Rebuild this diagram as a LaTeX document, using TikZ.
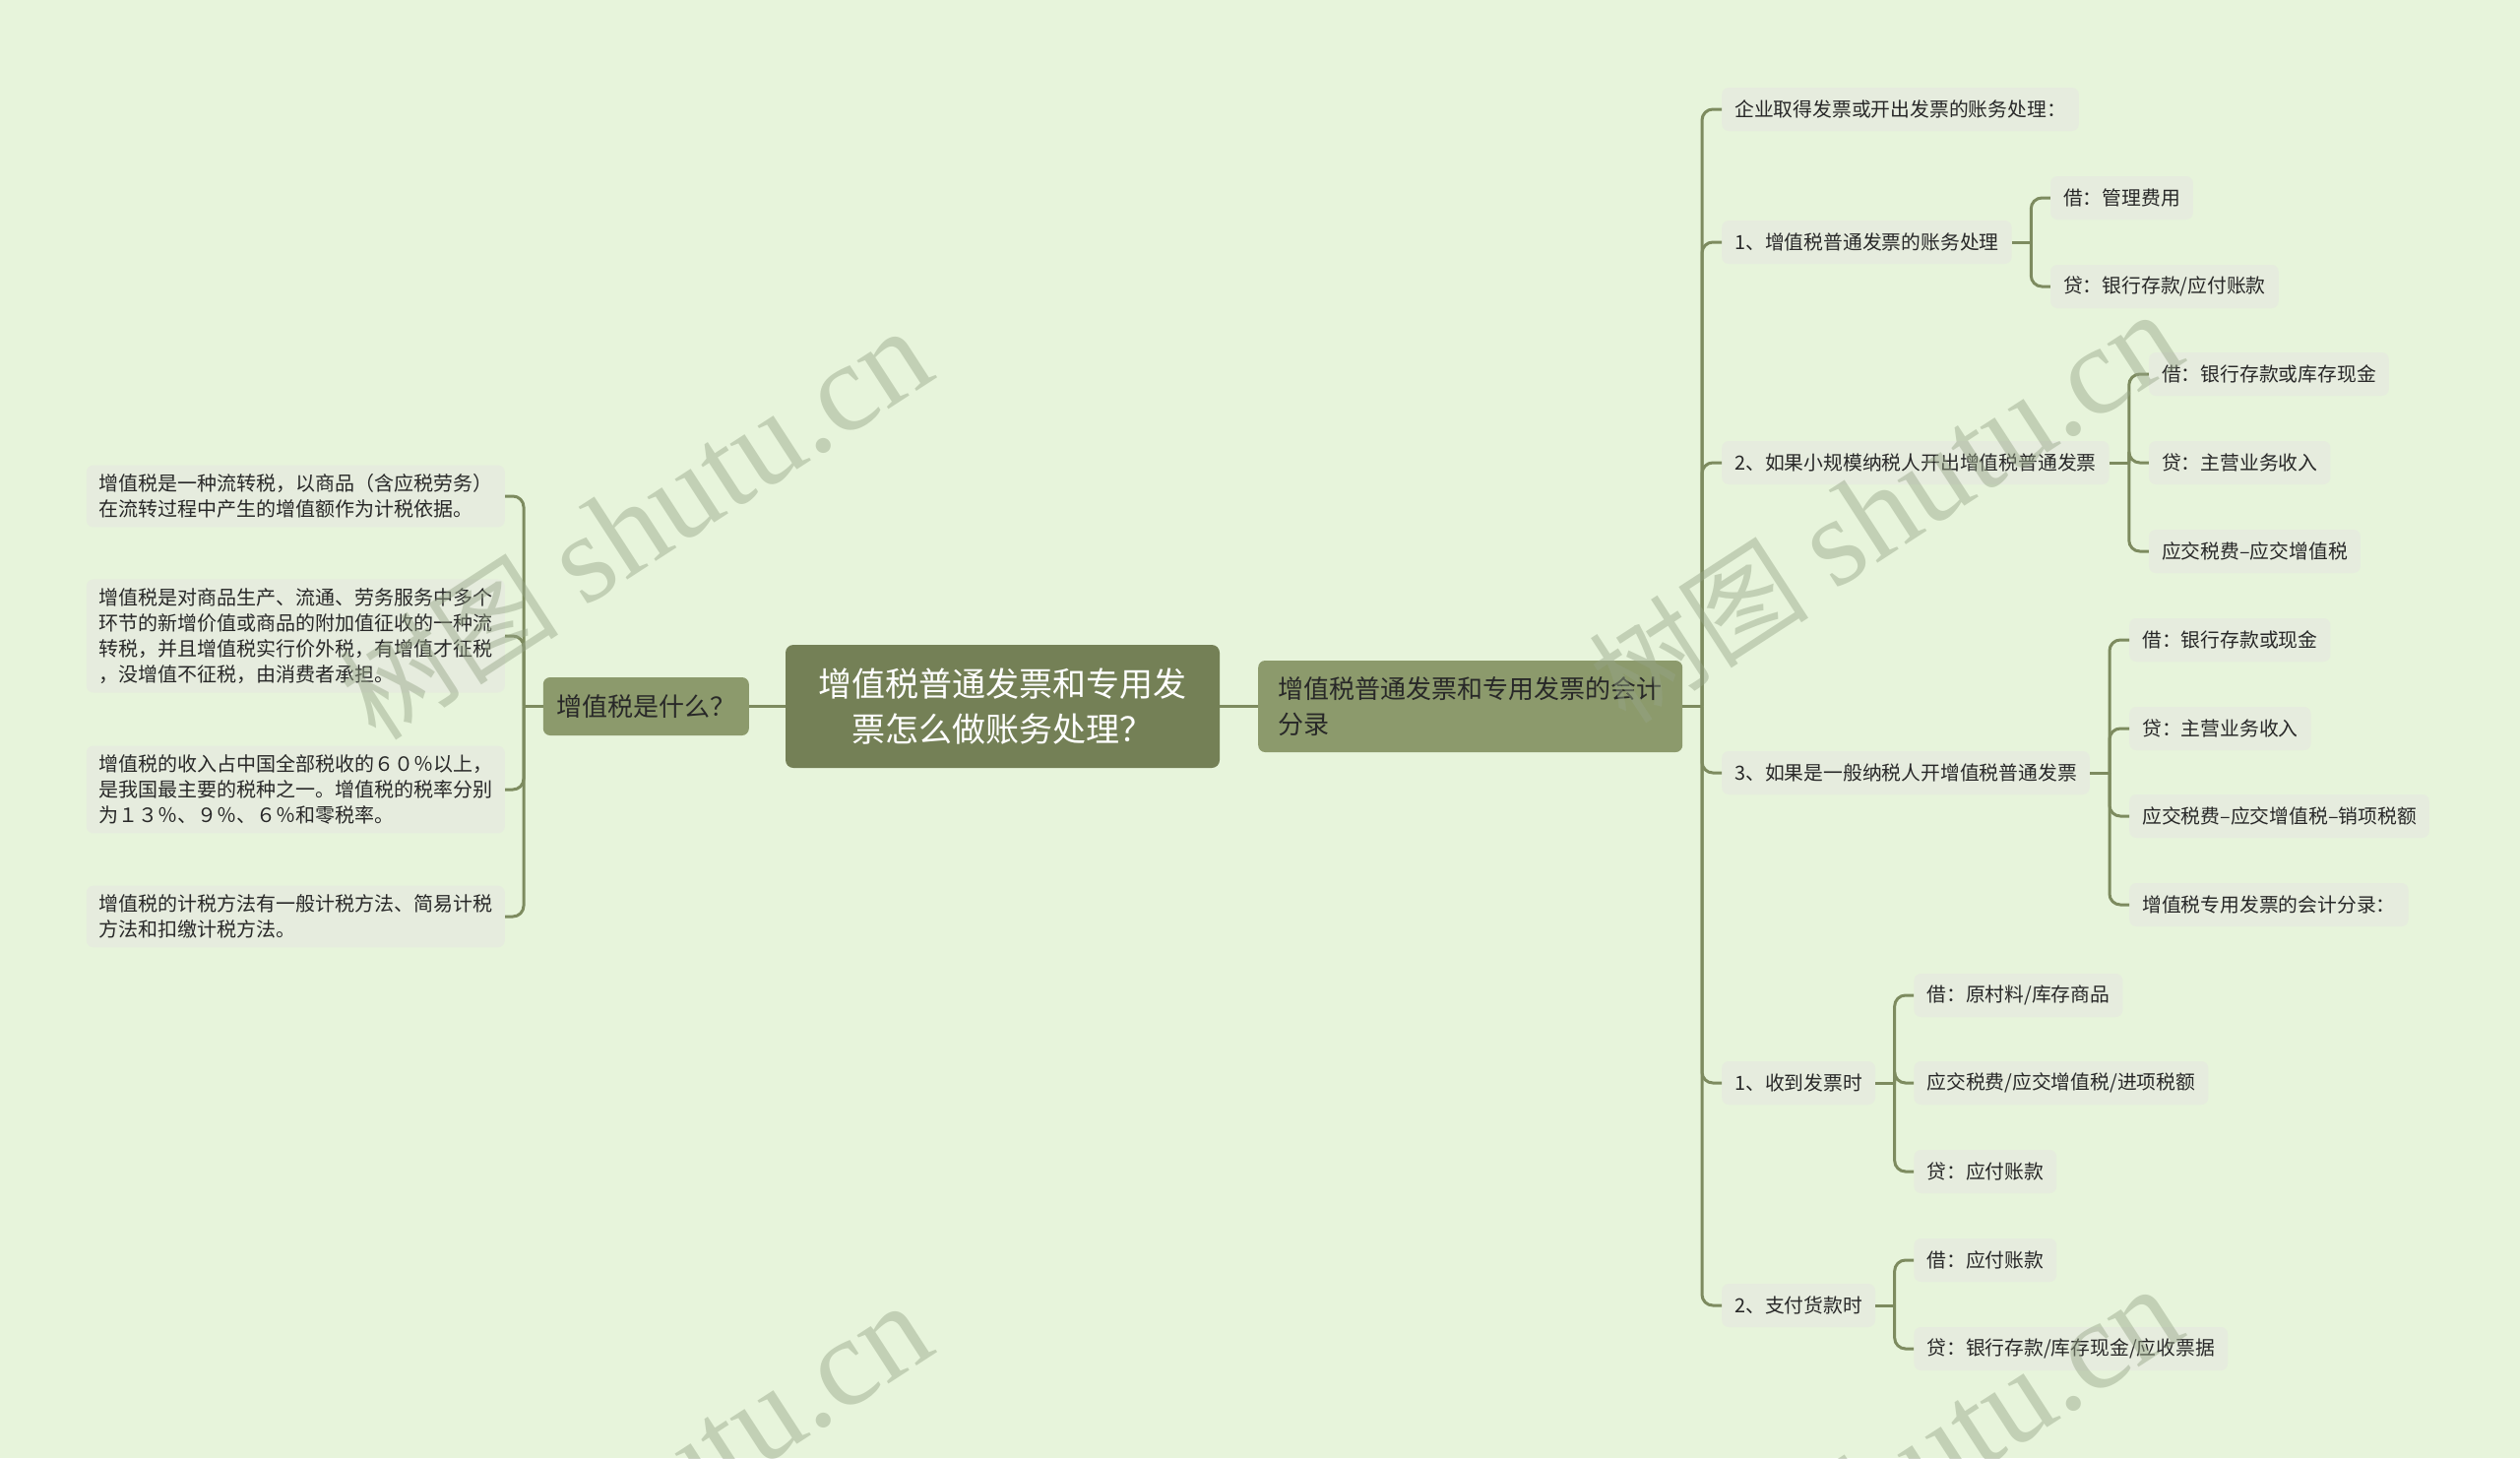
\documentclass[tikz,border=0pt]{standalone}
\usepackage{fontspec}
\setmainfont{Noto Sans CJK SC}
\newfontfamily\wmserif{Liberation Serif}
\usetikzlibrary{calc}
\definecolor{bgc}{RGB}{231,244,219}
\definecolor{rootc}{RGB}{116,128,86}
\definecolor{mainc}{RGB}{140,154,108}
\definecolor{leafc}{RGB}{230,236,222}
\definecolor{linec}{RGB}{125,139,95}
\definecolor{txtc}{RGB}{40,40,40}
\definecolor{wmc}{RGB}{150,165,135}
\tikzset{
  rootbox/.style={fill=rootc, text=white, rounded corners=8pt, minimum width=441pt, minimum height=125pt, align=center, inner sep=0pt, font=\fontsize{34}{46}\selectfont},
  mainbox/.style={fill=mainc, text=txtc, rounded corners=7pt, align=left, inner xsep=20pt, inner ysep=0pt, font=\fontsize{26}{36}\selectfont},
  leafbox/.style={fill=leafc, text=txtc, rounded corners=7pt, align=left, inner xsep=12pt, inner ysep=9pt, minimum width=425pt, font=\fontsize{20}{26}\selectfont},
  rnode/.style={fill=leafc, text=txtc, rounded corners=7pt, anchor=west, inner xsep=13pt, inner ysep=0pt, minimum height=44pt, font=\fontsize{19.8}{24}\selectfont},
  conn/.style={draw=linec, line width=3pt},
  bconn/.style={draw=linec, line width=3pt, rounded corners=11pt},
  wm/.style={text=wmc, text opacity=0.45, rotate=33, inner sep=0pt}
}
\begin{document}
\begin{tikzpicture}[x=1pt,y=-1pt]
\fill[bgc] (0,0) rectangle (2560,1481);
\useasboundingbox (0,0) rectangle (2560,1481);

% root and main nodes
\node[rootbox] (root) at (1018.5,717.5) {增值税普通发票和专用发\\票怎么做账务处理？};
\node[mainbox, anchor=west, minimum width=431pt, minimum height=93pt] (rm) at (1278,717.5) {增值税普通发票和专用发票的会计\\分录};
\node[mainbox, anchor=east, inner xsep=13pt, minimum width=209pt, minimum height=59pt] (lm) at (761,717.5) {增值税是什么？};

% left leaves
\node[leafbox, anchor=east] (l1) at (513,504) {增值税是一种流转税，以商品（含应税劳务）\\在流转过程中产生的增值额作为计税依据。};
\node[leafbox, anchor=east] (l2) at (513,646) {增值税是对商品生产、流通、劳务服务中多个\\环节的新增价值或商品的附加值征收的一种流\\转税，并且增值税实行价外税，有增值才征税\\，没增值不征税，由消费者承担。};
\node[leafbox, anchor=east] (l3) at (513,802) {增值税的收入占中国全部税收的６０％以上，\\是我国最主要的税种之一。增值税的税率分别\\为１３％、９％、６％和零税率。};
\node[leafbox, anchor=east] (l4) at (513,931) {增值税的计税方法有一般计税方法、简易计税\\方法和扣缴计税方法。};

% right level 1
\node[rnode] (a) at (1749,111) {企业取得发票或开出发票的账务处理：};
\node[rnode] (b) at (1749,246) {1、增值税普通发票的账务处理};
\node[rnode] (c) at (1749,470) {2、如果小规模纳税人开出增值税普通发票};
\node[rnode] (d) at (1749,785) {3、如果是一般纳税人开增值税普通发票};
\node[rnode] (e) at (1749,1100) {1、收到发票时};
\node[rnode] (f) at (1749,1326) {2、支付货款时};

% bracket coordinates
\coordinate (bj) at ($(b.east)+(19.5,0)$);
\coordinate (bx) at ($(b.east)+(39,0)$);
\coordinate (cj) at ($(c.east)+(20,0)$);
\coordinate (cx) at ($(c.east)+(40,0)$);
\coordinate (dj) at ($(d.east)+(20,0)$);
\coordinate (dx) at ($(d.east)+(40,0)$);
\coordinate (ej) at ($(e.east)+(19.5,0)$);
\coordinate (ex) at ($(e.east)+(39,0)$);
\coordinate (fj) at ($(f.east)+(19.5,0)$);
\coordinate (fx) at ($(f.east)+(39,0)$);

% right level 2
\node[rnode] (b1) at (bx |- 0,201) {借：管理费用};
\node[rnode] (b2) at (bx |- 0,291) {贷：银行存款/应付账款};
\node[rnode] (c1) at (cx |- 0,380) {借：银行存款或库存现金};
\node[rnode] (c2) at (cx |- 0,470) {贷：主营业务收入};
\node[rnode] (c3) at (cx |- 0,560) {应交税费–应交增值税};
\node[rnode] (d1) at (dx |- 0,650) {借：银行存款或现金};
\node[rnode] (d2) at (dx |- 0,740) {贷：主营业务收入};
\node[rnode] (d3) at (dx |- 0,829) {应交税费–应交增值税–销项税额};
\node[rnode] (d4) at (dx |- 0,919) {增值税专用发票的会计分录：};
\node[rnode] (e1) at (ex |- 0,1011) {借：原村料/库存商品};
\node[rnode] (e2) at (ex |- 0,1100) {应交税费/应交增值税/进项税额};
\node[rnode] (e3) at (ex |- 0,1190) {贷：应付账款};
\node[rnode] (f1) at (fx |- 0,1280) {借：应付账款};
\node[rnode] (f2) at (fx |- 0,1370) {贷：银行存款/库存现金/应收票据};

% connectors: root
\draw[conn] (root.west) -- (lm.east);
\draw[conn] (root.east) -- (rm.west);

% left bracket
\coordinate (lj) at (532,717.5);
\draw[conn] (lm.west) -- (lj);
\foreach \n in {l1,l2,l3,l4} \draw[bconn] (lj) |- (\n.east);

% right trunk
\coordinate (rj) at (1729,717.5);
\draw[conn] (rm.east) -- (rj);
\foreach \n in {a,b,c,d,e,f} \draw[bconn] (rj) |- (\n.west);

% sub brackets
\draw[conn] (b.east) -- (bj);
\foreach \n in {b1,b2} \draw[bconn] (bj) |- (\n.west);
\draw[conn] (c.east) -- (cj);
\foreach \n in {c1,c2,c3} \draw[bconn] (cj) |- (\n.west);
\draw[conn] (d.east) -- (dj);
\foreach \n in {d1,d2,d3,d4} \draw[bconn] (dj) |- (\n.west);
\draw[conn] (e.east) -- (ej);
\foreach \n in {e1,e2,e3} \draw[bconn] (ej) |- (\n.west);
\draw[conn] (f.east) -- (fj);
\foreach \n in {f1,f2} \draw[bconn] (fj) |- (\n.west);

% watermarks
\foreach \p [count=\i] in {{(645,533)},{(1915,516)},{(645,1523)},{(1915,1506)}}
  \node[wm] (wm\i) at \p {{\fontsize{112}{112}\selectfont 树图}\hspace{28pt}{\wmserif\fontsize{128}{128}\selectfont shutu.cn}};
\end{tikzpicture}
\end{document}
